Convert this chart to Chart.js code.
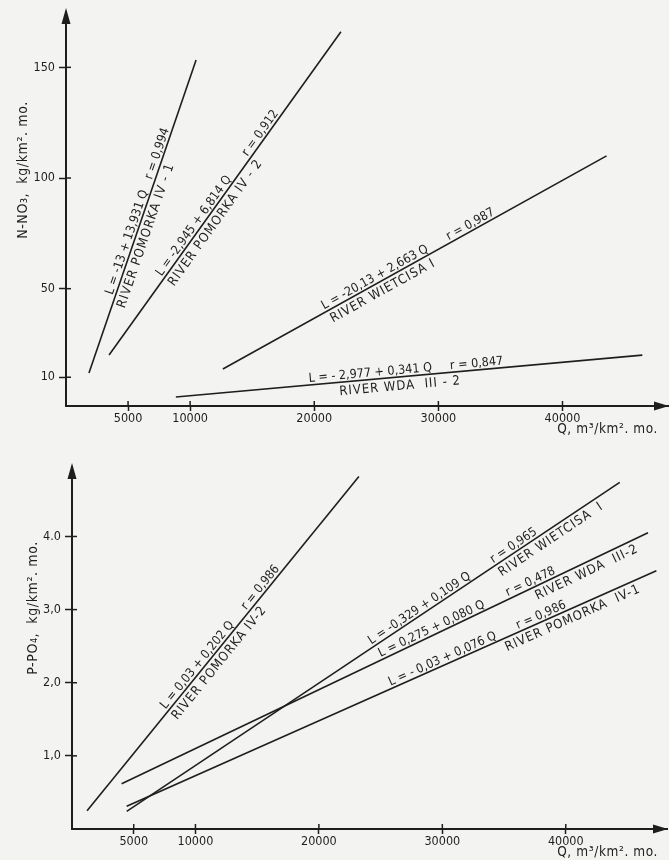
<!DOCTYPE html>
<html>
<head>
<meta charset="utf-8">
<script src="https://cdn.jsdelivr.net/npm/chart.js@4.4.1/dist/chart.umd.min.js"></script>
<style>
  body { margin: 0; background: #f3f3f1; }
  .wrap { position: relative; width: 669px; height: 860px; }
  #nChart { position: absolute; left: 0; top: 0; }
  #pChart { position: absolute; left: 0; top: 430px; }
</style>
</head>
<body>
<div class="wrap">
  <canvas id="nChart" width="669" height="440"></canvas>
  <canvas id="pChart" width="669" height="430"></canvas>
</div>
<script>
// x axis ticks, same on both panels
const qTicks = [5000, 10000, 20000, 30000, 40000];

// upper panel: N-NO3
const nTicks = [10, 50, 100, 150];
const nRivers = ['POMORKA IV-1', 'POMORKA IV-2', 'WIETCISA I', 'WDA III-2'];
const nQ = [[1850, 10480], [3470, 22150], [12640, 43550], [8850, 46430]];
const nL = [[11.9, 153.3], [20.0, 166.1], [13.7, 110.0], [1.1, 20.0]];
const nEq = ['L = -13 + 13,931 Q', 'L = -2,945 + 6,814 Q', 'L = -20,13 + 2,663 Q', 'L = - 2,977 + 0,341 Q'];
const nR = ['r = 0,994', 'r = 0,912', 'r = 0,987', 'r = 0,847'];
const nNames = ['RIVER POMORKA IV - 1', 'RIVER POMORKA IV - 2', 'RIVER WIETCISA I', 'RIVER WDA  III - 2'];

// lower panel: P-PO4
const pTicks = [1, 2, 3, 4];
const pTickLabels = ['1,0', '2,0', '3,0', '4.0'];
const pRivers = ['POMORKA IV-2', 'WIETCISA I', 'WDA III-2', 'POMORKA IV-1'];
const pQ = [[1220, 23240], [4430, 44370], [4020, 46660], [4430, 47340]];
const pL = [[0.25, 4.82], [0.24, 4.74], [0.62, 4.05], [0.31, 3.53]];
const pEq = ['L = 0,03 + 0,202 Q', 'L = -0,329 + 0,109 Q', 'L = 0,275 + 0,080 Q', 'L = - 0,03 + 0,076 Q'];
const pR = ['r = 0,986', 'r = 0,965', 'r = 0,478', 'r = 0,986'];
const pNames = ['RIVER POMORKA IV-2', 'RIVER WIETCISA  I', 'RIVER WDA  III-2', 'RIVER POMORKA  IV-1'];

// where the texts sit along each line (fraction of its length): equation, r, river name
const nLabelAt = [[0.411, 0.694, 0.449], [0.388, 0.675, 0.426], [0.404, 0.653, 0.405], [0.418, 0.646, 0.479]];
const pLabelAt = [[0.424, 0.656, 0.46], [0.601, 0.792, 0.85], [0.594, 0.782, 0.876], [0.601, 0.787, 0.835]];

const ink = '#1e1e1e';
const fontFam = '"DejaVu Sans Condensed", "DejaVu Sans", sans-serif';
Chart.defaults.font.family = fontFam;
Chart.defaults.color = ink;

function makeSets(names, qs, ls) {
  return names.map((n, i) => ({
    label: n,
    data: [{ x: qs[i][0], y: ls[i][0] }, { x: qs[i][1], y: ls[i][1] }],
    showLine: true,
    borderColor: ink,
    borderWidth: 1.6,
    pointRadius: 0
  }));
}

function textOnLine(ctx, chart, ds, t, text, below) {
  const xs = chart.scales.x, ys = chart.scales.y;
  const x0 = xs.getPixelForValue(ds.data[0].x), y0 = ys.getPixelForValue(ds.data[0].y);
  const x1 = xs.getPixelForValue(ds.data[1].x), y1 = ys.getPixelForValue(ds.data[1].y);
  const ang = Math.atan2(y1 - y0, x1 - x0);
  ctx.save();
  ctx.translate(x0 + (x1 - x0) * t, y0 + (y1 - y0) * t);
  ctx.rotate(ang);
  ctx.textAlign = 'center';
  ctx.textBaseline = below ? 'top' : 'alphabetic';
  ctx.fillText(text, 0, below ? 3 : -3);
  ctx.restore();
}

const decor = {
  id: 'decor',
  afterDatasetsDraw(chart, args, o) {
    const ctx = chart.ctx;
    const a = chart.chartArea;
    const xs = chart.scales.x, ys = chart.scales.y;
    ctx.save();
    ctx.fillStyle = ink;
    ctx.strokeStyle = ink;
    // arrow heads
    ctx.beginPath();
    ctx.moveTo(a.left, a.top - 4);
    ctx.lineTo(a.left - 4.5, a.top + 12);
    ctx.lineTo(a.left + 4.5, a.top + 12);
    ctx.closePath();
    ctx.fill();
    ctx.beginPath();
    ctx.moveTo(a.right + 1, a.bottom);
    ctx.lineTo(a.right - 14, a.bottom - 4.5);
    ctx.lineTo(a.right - 14, a.bottom + 4.5);
    ctx.closePath();
    ctx.fill();
    // tick marks crossing into the plot
    ctx.lineWidth = 1.5;
    xs.ticks.forEach(tk => {
      const x = xs.getPixelForValue(tk.value);
      ctx.beginPath(); ctx.moveTo(x, a.bottom); ctx.lineTo(x, a.bottom - 5); ctx.stroke();
    });
    ys.ticks.forEach(tk => {
      const y = ys.getPixelForValue(tk.value);
      ctx.beginPath(); ctx.moveTo(a.left, y); ctx.lineTo(a.left + 5, y); ctx.stroke();
    });
    // equations and river names
    chart.data.datasets.forEach((ds, i) => {
      ctx.font = '12.5px ' + fontFam;
      ctx.letterSpacing = '0px';
      textOnLine(ctx, chart, ds, o.at[i][0], o.eq[i], false);
      textOnLine(ctx, chart, ds, o.at[i][1], o.r[i], false);
      ctx.font = '13px ' + fontFam;
      ctx.letterSpacing = '1px';
      textOnLine(ctx, chart, ds, o.at[i][2], o.names[i], true);
    });
    // axis titles
    ctx.font = '14px ' + fontFam;
    ctx.letterSpacing = '0.6px';
    ctx.save();
    ctx.translate(o.yTitleX, o.yTitleY);
    ctx.rotate(-Math.PI / 2);
    ctx.textAlign = 'center';
    ctx.textBaseline = 'middle';
    ctx.fillText(o.yTitle, 0, 0);
    ctx.restore();
    ctx.font = '13.5px ' + fontFam;
    ctx.textAlign = 'right';
    ctx.textBaseline = 'middle';
    ctx.fillText('Q, m³/km². mo.', o.xTitleRight, o.xTitleY);
    ctx.restore();
  }
};

function makeChart(id, sets, yMin, yMax, yTicks, yLabel, xMax, pad, yWidth, xHeight, deco) {
  return new Chart(document.getElementById(id), {
    type: 'scatter',
    data: { datasets: sets },
    options: {
      responsive: false,
      animation: false,
      layout: { padding: pad },
      plugins: { legend: { display: false }, tooltip: { enabled: false }, decor: deco },
      scales: {
        x: {
          type: 'linear', min: 0, max: xMax,
          afterBuildTicks: s => { s.ticks = qTicks.map(v => ({ value: v })); },
          afterFit: s => { s.height = xHeight; },
          border: { color: ink, width: 2 },
          grid: { drawOnChartArea: false, color: ink, tickLength: 5, tickWidth: 1.5 },
          ticks: { padding: 0, maxRotation: 0, font: { size: 12.5 }, callback: v => String(v) }
        },
        y: {
          type: 'linear', min: yMin, max: yMax,
          afterBuildTicks: s => { s.ticks = yTicks.map(v => ({ value: v })); },
          afterFit: s => { s.width = yWidth; },
          border: { color: ink, width: 2 },
          grid: { drawOnChartArea: false, color: ink, tickLength: 7, tickWidth: 1.5 },
          ticks: { padding: 4, font: { size: 12.5 }, callback: yLabel }
        }
      }
    },
    plugins: [decor]
  });
}

makeChart('nChart', makeSets(nRivers, nQ, nL), -3, 175, nTicks, v => String(v), 48500,
  { top: 12, right: 1, left: 0, bottom: 0 }, 66, 34,
  { eq: nEq, r: nR, names: nNames, at: nLabelAt, yTitle: 'N-NO₃,  kg/km². mo.', yTitleX: 23, yTitleY: 170, xTitleRight: 658, xTitleY: 429 });

makeChart('pChart', makeSets(pRivers, pQ, pL), 0, 4.95, pTicks, v => pTickLabels[pTicks.indexOf(v)], 48200,
  { top: 37, right: 2, left: 0, bottom: 0 }, 72, 31,
  { eq: pEq, r: pR, names: pNames, at: pLabelAt, yTitle: 'P-PO₄,  kg/km². mo.', yTitleX: 33, yTitleY: 178, xTitleRight: 658, xTitleY: 422 });
</script>
</body>
</html>
